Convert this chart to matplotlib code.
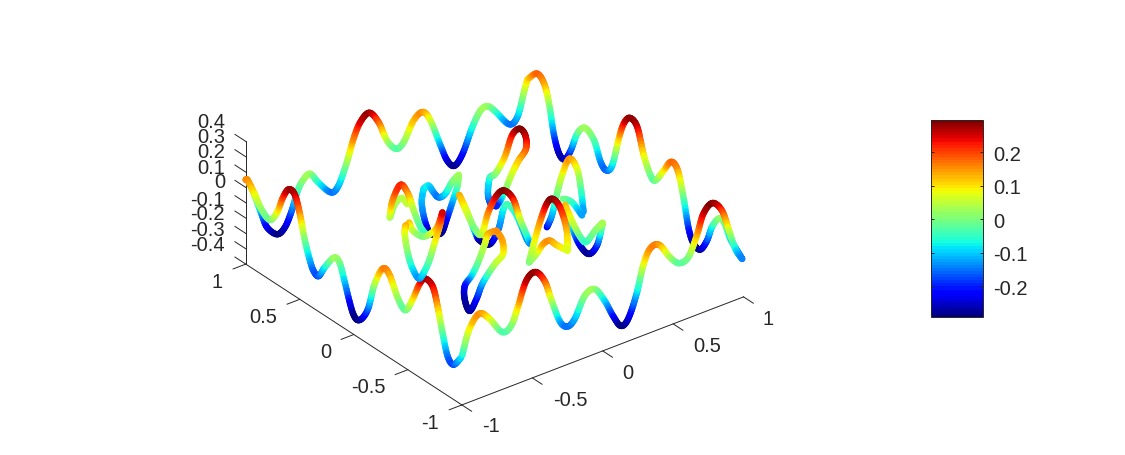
import numpy as np
import matplotlib
matplotlib.use("Agg")
import matplotlib.pyplot as plt
from matplotlib.cm import ScalarMappable
from matplotlib.colors import Normalize
from mpl_toolkits.mplot3d.art3d import Line3DCollection

plt.rcParams["font.family"] = ["Liberation Sans", "DejaVu Sans"]

# outer square, one edge at a time
top_x = [-1.0, -0.984, -0.936, -0.888, -0.848, -0.777, -0.722, -0.674, -0.627, -0.579, -0.539, -0.485, -0.396, -0.342, -0.282, -0.235, -0.187, -0.123, -0.057, 0.003, 0.067, 0.121, 0.192, 0.257, 0.311, 0.383, 0.430, 0.482, 0.540, 0.609, 0.668, 0.720, 0.775, 0.870, 0.929, 0.976, 1.0]
top_z = [0.15, 0.137, 0.022, -0.114, -0.215, -0.284, -0.258, -0.168, -0.042, 0.017, 0.025, -0.049, -0.145, -0.121, 0.011, 0.147, 0.239, 0.278, 0.193, 0.052, -0.024, 0.0, 0.117, 0.149, 0.075, -0.114, -0.228, -0.281, -0.223, -0.073, 0.015, 0.023, -0.033, -0.147, -0.12, 0.027, 0.099]

right_y = [1.0, 0.913, 0.846, 0.800, 0.754, 0.707, 0.655, 0.599, 0.538, 0.467, 0.384, 0.323, 0.270, 0.215, 0.154, 0.108, 0.052, -0.016, -0.077, -0.139, -0.185, -0.262, -0.330, -0.391, -0.446, -0.492, -0.539, -0.600, -0.662, -0.708, -0.769, -0.821, -0.877, -0.942, -0.988]
right_z = [0.099, 0.178, 0.144, 0.034, -0.151, -0.25, -0.263, -0.179, -0.041, 0.028, -0.014, -0.127, -0.158, -0.10, 0.103, 0.222, 0.284, 0.257, 0.099, -0.003, -0.014, 0.086, 0.173, 0.146, -0.014, -0.189, -0.266, -0.275, -0.188, -0.078, 0.004, 0.002, -0.077, -0.126, -0.158]

left_y = [1.0, 0.979, 0.917, 0.855, 0.778, 0.711, 0.656, 0.603, 0.548, 0.502, 0.455, 0.409, 0.372, 0.326, 0.271, 0.185, 0.132, 0.086, 0.0097, -0.052, -0.129, -0.191, -0.267, -0.329, -0.406, -0.477, -0.544, -0.606, -0.658, -0.729, -0.775, -0.821, -0.868, -0.922, -0.991]
left_z = [0.15, 0.152, 0.094, 0.024, -0.01, 0.069, 0.192, 0.27, 0.263, 0.165, 0.012, -0.098, -0.157, -0.169, -0.088, 0.016, 0.008, -0.091, -0.263, -0.282, -0.178, 0.014, 0.152, 0.143, 0.026, -0.022, 0.079, 0.205, 0.267, 0.25, 0.141, -0.012, -0.143, -0.173, -0.097]

bottom_x = [-0.998, -0.948, -0.877, -0.805, -0.715, -0.651, -0.604, -0.544, -0.478, -0.413, -0.366, -0.306, -0.254, -0.2, -0.128, -0.057, 0.014, 0.073, 0.128, 0.18, 0.240, 0.287, 0.335, 0.399, 0.478, 0.542, 0.608, 0.668, 0.715, 0.779, 0.846, 0.893, 0.941, 0.989]
bottom_z = [-0.078, 0.074, 0.152, 0.094, -0.025, -0.008, 0.095, 0.248, 0.283, 0.202, 0.066, -0.097, -0.152, -0.123, 0.004, 0.023, -0.078, -0.197, -0.282, -0.256, -0.114, 0.054, 0.147, 0.152, 0.042, -0.019, -0.003, 0.117, 0.243, 0.29, 0.218, 0.082, -0.065, -0.148]

# inner curves, left group
la_x = [-0.489, -0.478, -0.416, -0.372, -0.347, -0.359, -0.358]
la_y = [0.333, 0.323, 0.329, 0.315, 0.301, 0.225, 0.171]
la_z = [0.03, 0.14, 0.22, 0.15, 0.05, -0.02, -0.05]
lb_x = [-0.457, -0.374, -0.313, -0.340]
lb_y = [0.374, 0.436, 0.453, 0.366]
lb_z = [0.0, 0.03, 0.04, 0.05]
lc_x = [-0.542, -0.508, -0.439, -0.436, -0.446, -0.450]
lc_y = [0.085, 0.093, 0.090, 0.002, -0.057, -0.103]
lc_z = [0.13, 0.06, 0.0, 0.07, 0.14, 0.25]
ld_x = [-0.586, -0.589, -0.628, -0.625, -0.609, -0.584, -0.544, -0.502, -0.449, -0.450]
ld_y = [0.059, 0.064, -0.017, -0.058, -0.094, -0.113, -0.108, -0.099, -0.077, -0.103]
ld_z = [0.14, 0.08, 0.0, -0.08, -0.13, -0.08, -0.02, 0.07, 0.15, 0.25]
le_x = [-0.016, -0.095, -0.145, -0.109, -0.089]
le_y = [0.637, 0.551, 0.461, 0.462, 0.435]
le_z = [-0.09, -0.11, -0.16, -0.26, -0.27]
lf_x = [-0.016, 0.019, 0.037, 0.057, 0.057, 0.083, 0.111]
lf_y = [0.637, 0.636, 0.614, 0.593, 0.532, 0.504, 0.478]
lf_z = [-0.09, -0.08, -0.12, -0.15, -0.10, -0.02, 0.03]
lg_x = [0.111, 0.064, 0.049, -0.003, -0.043, -0.089]
lg_y = [0.478, 0.427, 0.445, 0.439, 0.433, 0.435]
lg_z = [0.03, 0.0, -0.09, -0.20, -0.27, -0.27]

# inner curves, middle group
ma_x = [0.306, 0.298, 0.280, 0.332, 0.313, 0.331, 0.358, 0.421, 0.426, 0.428, 0.413, 0.373, 0.314, 0.243, 0.258, 0.306]
ma_y = [0.384, 0.423, 0.427, 0.479, 0.411, 0.395, 0.368, 0.388, 0.326, 0.274, 0.248, 0.264, 0.250, 0.220, 0.284, 0.384]
ma_z = [-0.20, -0.20, -0.13, -0.07, -0.01, 0.03, 0.12, 0.22, 0.29, 0.27, 0.20, 0.13, 0.07, 0.0, -0.10, -0.20]
mb_x = [-0.140, -0.152, -0.156, -0.193, -0.140, -0.093, -0.066, -0.031, 0.041, 0.088, 0.127]
mb_y = [0.145, 0.061, -0.021, -0.130, -0.123, -0.139, -0.175, -0.212, -0.181, -0.197, -0.168]
mb_z = [0.14, 0.07, 0.0, 0.03, 0.15, 0.25, 0.29, 0.24, 0.07, -0.07, -0.13]
mc_x = [-0.140, -0.130, -0.073, 0.060, 0.103, 0.118, 0.194, 0.202, 0.186, 0.144, 0.127]
mc_y = [0.145, 0.089, 0.086, 0.214, 0.177, 0.118, 0.171, 0.135, 0.038, -0.109, -0.168]
mc_z = [0.14, 0.06, -0.10, -0.26, -0.28, -0.16, -0.08, -0.04, -0.06, -0.13, -0.13]
md_x = [-0.229, -0.279, -0.289, -0.372, -0.409, -0.381, -0.410, -0.447, -0.400, -0.361, -0.340, -0.276, -0.250, -0.229]
md_y = [-0.315, -0.303, -0.285, -0.331, -0.318, -0.220, -0.257, -0.351, -0.352, -0.362, -0.444, -0.437, -0.398, -0.315]
md_z = [0.15, 0.14, 0.07, 0.0, -0.08, -0.20, -0.26, -0.28, -0.22, -0.12, 0.03, 0.07, 0.13, 0.15]

# inner curves, right group
ra_x = [-0.143, -0.073, 0.033, 0.074, 0.093, 0.121, 0.107, 0.036]
ra_y = [-0.505, -0.452, -0.375, -0.385, -0.415, -0.446, -0.526, -0.628]
ra_z = [0.0, 0.06, 0.14, 0.25, 0.29, 0.24, 0.14, 0.07]
rb_x = [-0.143, -0.095, -0.091, -0.059, -0.027, 0.036]
rb_y = [-0.505, -0.510, -0.567, -0.587, -0.608, -0.628]
rb_z = [0.0, 0.04, 0.13, 0.15, 0.12, 0.07]
rc_x = [0.409, 0.417, 0.473, 0.538, 0.591, 0.630, 0.615, 0.582]
rc_y = [0.050, 0.014, 0.040, 0.078, 0.079, 0.059, 0.003, -0.064]
rc_z = [-0.22, -0.13, -0.02, 0.06, 0.15, 0.08, -0.02, -0.13]
rd_x = [0.276, 0.256, 0.274, 0.310, 0.370, 0.425]
rd_y = [-0.292, -0.395, -0.448, -0.448, -0.447, -0.444]
rd_z = [0.13, 0.06, -0.02, -0.05, 0.0, 0.03]
re_x = [0.337, 0.422, 0.475, 0.486, 0.445, 0.425]
re_y = [-0.259, -0.226, -0.249, -0.313, -0.412, -0.444]
re_z = [-0.02, -0.20, -0.28, -0.20, -0.02, 0.03]
rf_x = [0.444, 0.504, 0.552]
rf_y = [-0.052, -0.058, -0.089]
rf_z = [0.0, -0.04, -0.13]

xy_ticks = [-1, -0.5, 0, 0.5, 1]
z_ticks = [-0.4, -0.3, -0.2, -0.1, 0, 0.1, 0.2, 0.3, 0.4]
cbar_ticks = [-0.2, -0.1, 0, 0.1, 0.2]
cmin, cmax = -0.293, 0.296

W, H = 1125, 456
fig = plt.figure(figsize=(W / 100, H / 100), dpi=100)

side = 700
left = 494.65 - 0.5135 * side
bottom = (H - 220.15) - 0.5135 * side
ax = fig.add_axes([left / W, bottom / H, side / W, side / H], projection="3d", proj_type="ortho")
ax.set_box_aspect((1, 1, 0.399), zoom=0.7235)
ax.view_init(elev=30, azim=-127.5)
ax.set_xlim(-1, 1)
ax.set_ylim(-1, 1)
ax.set_zlim(-0.4, 0.4)
ax.set_axis_off()
ax.computed_zorder = False

jet = plt.get_cmap("jet", 64)
norm = Normalize(cmin, cmax)


def draw_curve(xs, ys, zs, order):
    # rounded line through the read points, cut up so the colour runs along it
    pts = np.column_stack([xs, ys, zs]).astype(float)
    pad = np.vstack([pts[0], pts, pts[-1]])
    ts = np.linspace(0, 1, 11)
    segs, vals = [], []
    for i in range(1, len(pad) - 2):
        p0, p1, p2, p3 = pad[i - 1], pad[i], pad[i + 1], pad[i + 2]
        line = [0.5 * (2 * p1 + (p2 - p0) * t + (2 * p0 - 5 * p1 + 4 * p2 - p3) * t ** 2
                       + (3 * p1 - p0 - 3 * p2 + p3) * t ** 3) for t in ts]
        for a, b in zip(line[:-1], line[1:]):
            segs.append([a, b])
            vals.append((a[2] + b[2]) / 2)
    lc = Line3DCollection(segs, cmap=jet, norm=norm, linewidths=4.6, capstyle="round", zorder=order)
    lc.set_array(np.array(vals))
    ax.add_collection3d(lc, autolim=False)


curves = [
    (top_x, [1] * len(top_x), top_z),
    ([1] * len(right_y), right_y, right_z),
    ([-1] * len(left_y), left_y, left_z),
    (le_x, le_y, le_z), (lf_x, lf_y, lf_z), (lg_x, lg_y, lg_z),
    (lb_x, lb_y, lb_z), (la_x, la_y, la_z), (lc_x, lc_y, lc_z), (ld_x, ld_y, ld_z),
    (ma_x, ma_y, ma_z), (mc_x, mc_y, mc_z), (mb_x, mb_y, mb_z), (md_x, md_y, md_z),
    (rc_x, rc_y, rc_z), (rf_x, rf_y, rf_z), (re_x, re_y, re_z), (rd_x, rd_y, rd_z),
    (ra_x, ra_y, ra_z), (rb_x, rb_y, rb_z),
    (bottom_x, [-1] * len(bottom_x), bottom_z),
]
for n, (cx, cy, cz) in enumerate(curves):
    draw_curve(cx, cy, cz, 5 + n)

# axis lines and ticks
axc = "#262626"
ax.plot([-1, 1], [-1, -1], [-0.4, -0.4], color=axc, lw=0.7, zorder=1)
ax.plot([-1, -1], [-1, 1], [-0.4, -0.4], color=axc, lw=0.7, zorder=1)
ax.plot([-1, -1], [1, 1], [-0.4, 0.4], color=axc, lw=0.7, zorder=1)
for t in xy_ticks:
    ax.plot([t, t], [-1, -1.09], [-0.4, -0.4], color=axc, lw=0.7, zorder=1)
    ax.plot([-1, -1.09], [t, t], [-0.4, -0.4], color=axc, lw=0.7, zorder=1)
for t in z_ticks:
    ax.plot([-1, -1], [1, 1.1], [t, t], color=axc, lw=0.7, zorder=1)


def label(px, py, s, ha="center"):
    fig.text(px / W, 1 - py / H, s, ha=ha, va="center", fontsize=14.5, color=axc)


x_pos = [(491, 427), (570, 401), (628, 374), (707, 347), (768, 320)]
y_pos = [(430, 424), (368, 388), (326, 353), (263, 318), (217, 283)]
z_pos = [246, 231, 215, 200, 183, 168, 153, 138, 123]
fmt = lambda v: f"{v:g}"
for t, p in zip(xy_ticks, x_pos):
    label(p[0], p[1], fmt(t))
for t, p in zip(xy_ticks, y_pos):
    label(p[0], p[1], fmt(t))
for t, p in zip(z_ticks, z_pos):
    label(225, p, fmt(t), ha="right")

# colorbar
cax = fig.add_axes([931.3 / W, 1 - 318.3 / H, 52 / W, 197.3 / H])
cb = fig.colorbar(ScalarMappable(norm=norm, cmap=jet), cax=cax, ticks=cbar_ticks)
cb.ax.set_yticklabels([fmt(t) for t in cbar_ticks])
cb.outline.set_edgecolor(axc)
cb.outline.set_linewidth(0.7)
cax.tick_params(axis="y", direction="in", left=True, right=True, length=2.5, width=0.7,
                color=axc, labelcolor=axc, labelsize=14.5, pad=7)

fig.savefig("out.png", dpi=100)
